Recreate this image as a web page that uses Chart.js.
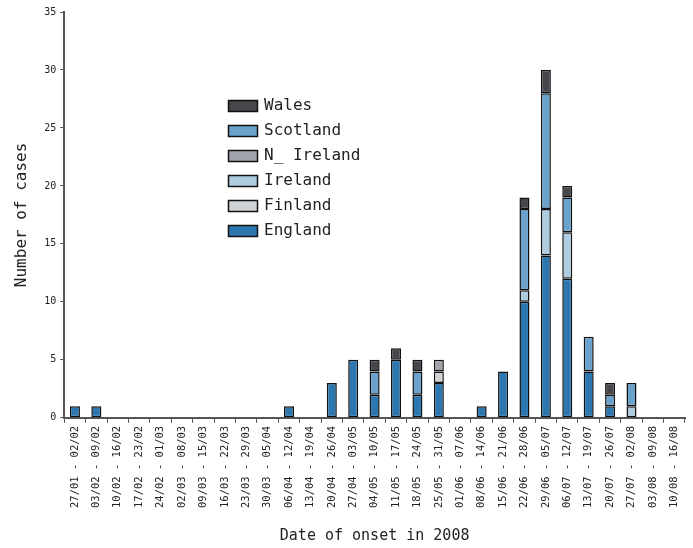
<!DOCTYPE html>
<html>
<head>
<meta charset="utf-8">
<script src="https://cdn.jsdelivr.net/npm/chart.js@4/dist/chart.umd.min.js"></script>
<style>
  html, body { margin: 0; padding: 0; background: #fff; }
  #wrap { width: 693px; height: 548px; position: relative; }
</style>
</head>
<body>
<div id="wrap"><canvas id="c"></canvas></div>
<script>
// weekly categories
const weeks = [
  '27/01 - 02/02', '03/02 - 09/02', '10/02 - 16/02', '17/02 - 23/02', '24/02 - 01/03',
  '02/03 - 08/03', '09/03 - 15/03', '16/03 - 22/03', '23/03 - 29/03', '30/03 - 05/04',
  '06/04 - 12/04', '13/04 - 19/04', '20/04 - 26/04', '27/04 - 03/05', '04/05 - 10/05',
  '11/05 - 17/05', '18/05 - 24/05', '25/05 - 31/05', '01/06 - 07/06', '08/06 - 14/06',
  '15/06 - 21/06', '22/06 - 28/06', '29/06 - 05/07', '06/07 - 12/07', '13/07 - 19/07',
  '20/07 - 26/07', '27/07 - 02/08', '03/08 - 09/08', '10/08 - 16/08'
];

const england   = [1,1,0,0,0,0,0,0,0,0,1,0,3,5,2,5,2,3,0,1,4,10,14,12,4,1,0,0,0];
const finland   = [0,0,0,0,0,0,0,0,0,0,0,0,0,0,0,0,0,1,0,0,0,0,0,0,0,0,0,0,0];
const ireland   = [0,0,0,0,0,0,0,0,0,0,0,0,0,0,0,0,0,0,0,0,0,1,4,4,0,0,1,0,0];
const nIreland  = [0,0,0,0,0,0,0,0,0,0,0,0,0,0,0,0,0,1,0,0,0,0,0,0,0,0,0,0,0];
const scotland  = [0,0,0,0,0,0,0,0,0,0,0,0,0,0,2,0,2,0,0,0,0,7,10,3,3,1,2,0,0];
const wales     = [0,0,0,0,0,0,0,0,0,0,0,0,0,0,1,1,1,0,0,0,0,1,2,1,0,1,0,0,0];

const yTicks = [0, 5, 10, 15, 20, 25, 30, 35];

const FONT = "'DejaVu Sans Mono', monospace";
const AXIS = '#555';

function ds(label, data, color) {
  return {
    label: label,
    data: data.map(v => v === 0 ? null : v),
    backgroundColor: color,
    borderColor: '#111',
    borderWidth: 1.5,
    borderSkipped: false,
    categoryPercentage: 0.9,
    barPercentage: 0.52,
  };
}

// legend drawn inside the plot area, reversed like the original
const insideLegend = {
  id: 'insideLegend',
  afterDraw(chart) {
    const ctx = chart.ctx;
    const items = chart.data.datasets.slice().reverse();
    const x0 = 228, y0 = 100, step = 25;
    ctx.save();
    ctx.font = "16px " + FONT;
    ctx.textBaseline = 'middle';
    items.forEach((d, i) => {
      const y = y0 + i * step;
      ctx.fillStyle = d.backgroundColor;
      ctx.fillRect(x0, y, 30, 12);
      ctx.strokeStyle = '#111';
      ctx.lineWidth = 1.5;
      ctx.strokeRect(x0 + 0.5, y + 0.5, 29, 11);
      ctx.fillStyle = '#222';
      ctx.fillText(d.label, x0 + 36, y + 6);
    });
    ctx.restore();
  }
};

new Chart(document.getElementById('c'), {
  type: 'bar',
  data: {
    labels: weeks,
    datasets: [
      ds('England', england, '#2c77b0'),
      ds('Finland', finland, '#d0d3d8'),
      ds('Ireland', ireland, '#aecbe0'),
      ds('N_ Ireland', nIreland, '#a1a4ab'),
      ds('Scotland', scotland, '#6ba2cb'),
      ds('Wales', wales, '#45474c'),
    ]
  },
  options: {
    responsive: true,
    maintainAspectRatio: false,
    animation: false,
    layout: { padding: { top: 12, right: 8, left: 12, bottom: 3 } },
    plugins: {
      legend: { display: false },
      tooltip: { enabled: false }
    },
    scales: {
      x: {
        stacked: true,
        grid: { drawOnChartArea: false, drawTicks: true, tickLength: 5, color: AXIS, lineWidth: 1 },
        border: { display: true, color: AXIS, width: 2 },
        ticks: {
          autoSkip: false, maxRotation: 90, minRotation: 90,
          color: '#222', font: { family: FONT, size: 10.5 }, padding: 3
        },
        title: {
          display: true, text: 'Date of onset in 2008', color: '#222',
          font: { family: FONT, size: 15 }, padding: { top: 16, bottom: 0 }
        }
      },
      y: {
        stacked: true,
        min: 0, max: 35,
        afterBuildTicks(axis) { axis.ticks = yTicks.map(v => ({ value: v })); },
        grid: { drawOnChartArea: false, drawTicks: true, tickLength: 4, color: AXIS },
        border: { display: true, color: AXIS, width: 2 },
        ticks: { color: '#222', font: { family: FONT, size: 10 }, padding: 4 },
        title: {
          display: true, text: 'Number of cases', color: '#222',
          font: { family: FONT, size: 16 }, padding: { top: 0, bottom: 9 }
        }
      }
    }
  },
  plugins: [insideLegend]
});
</script>
</body>
</html>
